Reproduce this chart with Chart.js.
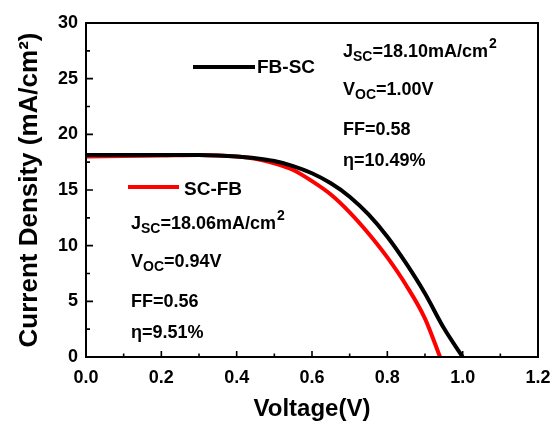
<!DOCTYPE html>
<html>
<head>
<meta charset="utf-8">
<script src="https://cdn.jsdelivr.net/npm/chart.js@4.4.0/dist/chart.umd.min.js"></script>
<style>
  html, body { margin: 0; padding: 0; background: #fff; }
  #wrap { width: 553px; height: 424px; }
</style>
</head>
<body>
<div id="wrap"><canvas id="jv" width="553" height="424"></canvas></div>
<script>
/* J-V curves */
const voltageFB = [0, 0.1, 0.2, 0.3, 0.35, 0.4, 0.45, 0.5, 0.55, 0.6, 0.65, 0.7, 0.75, 0.8, 0.85, 0.9, 0.95, 1.0];
const currentFB = [18.15, 18.15, 18.15, 18.15, 18.1, 18.0, 17.85, 17.6, 17.15, 16.5, 15.6, 14.4, 12.8, 10.8, 8.4, 5.7, 2.6, 0];

const voltageSC = [0, 0.1, 0.2, 0.3, 0.35, 0.4, 0.45, 0.5, 0.55, 0.6, 0.65, 0.7, 0.75, 0.8, 0.85, 0.9, 0.94];
const currentSC = [18.0, 18.05, 18.1, 18.15, 18.1, 18.0, 17.8, 17.4, 16.8, 15.8, 14.6, 13.0, 11.1, 8.95, 6.45, 3.45, 0];

const seriesNames = ['FB-SC', 'SC-FB'];
const seriesColors = ['#000000', '#ff0000'];

const xTickLabels = ['0.0', '0.2', '0.4', '0.6', '0.8', '1.0', '1.2'];
const yTickLabels = ['0', '5', '10', '15', '20', '25', '30'];

// parameter boxes: [main, subscript, main, superscript]
const statsFB = [['J', 'SC', '=18.10mA/cm', '2'], ['V', 'OC', '=1.00V', ''], ['FF=0.58', '', '', ''], ['\u03b7=10.49%', '', '', '']];
const statsSC = [['J', 'SC', '=18.06mA/cm', '2'], ['V', 'OC', '=0.94V', ''], ['FF=0.56', '', '', ''], ['\u03b7=9.51%', '', '', '']];

const FONT = "'Liberation Sans', Arial, sans-serif";

const pts = (xs, ys) => xs.map((x, i) => ({ x, y: ys[i] }));

function drawRuns(ctx, x, y, parts) {
  const [a, sub, b, sup] = parts;
  ctx.textAlign = 'left';
  ctx.textBaseline = 'alphabetic';
  ctx.font = 'bold 18px ' + FONT;
  ctx.fillText(a, x, y); x += ctx.measureText(a).width;
  if (sub) {
    ctx.font = 'bold 14px ' + FONT;
    ctx.fillText(sub, x, y + 4); x += ctx.measureText(sub).width;
  }
  if (b) {
    ctx.font = 'bold 18px ' + FONT;
    ctx.fillText(b, x, y); x += ctx.measureText(b).width;
  }
  if (sup) {
    ctx.font = 'bold 14px ' + FONT;
    ctx.fillText(sup, x + 1, y - 9);
  }
}

const frame = {
  id: 'frame',
  afterDatasetsDraw(chart) {
    const { ctx, chartArea: a, scales: { x, y } } = chart;
    ctx.save();
    ctx.strokeStyle = '#000';
    ctx.fillStyle = '#000';

    // inward ticks
    ctx.lineWidth = 1.6;
    ctx.beginPath();
    for (let v = 1; v < 12; v++) {
      const px = x.getPixelForValue(v / 10);
      ctx.moveTo(px, a.bottom);
      ctx.lineTo(px, a.bottom - (v % 2 ? 3.5 : 6));
    }
    for (let v = 1; v < 12; v++) {
      const py = y.getPixelForValue(v * 2.5);
      ctx.moveTo(a.left, py);
      ctx.lineTo(a.left + (v % 2 ? 4 : 7), py);
    }
    ctx.stroke();

    // box
    ctx.lineWidth = 2;
    ctx.strokeRect(a.left, a.top, a.right - a.left, a.bottom - a.top);

    // legend entries
    const legends = [
      { x0: 107, x1: 169, y: 44, tx: 171, ty: 50 },
      { x0: 42, x1: 93, y: 164, tx: 98, ty: 172 }
    ];
    legends.forEach((l, i) => {
      ctx.lineWidth = 4;
      ctx.strokeStyle = seriesColors[i];
      ctx.beginPath();
      ctx.moveTo(a.left + l.x0, a.top + l.y);
      ctx.lineTo(a.left + l.x1, a.top + l.y);
      ctx.stroke();
      ctx.fillStyle = '#000';
      ctx.font = 'bold 19px ' + FONT;
      ctx.textAlign = 'left';
      ctx.textBaseline = 'alphabetic';
      ctx.fillText(seriesNames[i], a.left + l.tx, a.top + l.ty);
    });

    // parameter text
    ctx.fillStyle = '#000';
    const fbBase = [34, 72, 112, 143];
    statsFB.forEach((p, i) => drawRuns(ctx, a.left + 257, a.top + fbBase[i], p));
    const scBase = [206, 244, 284, 315];
    statsSC.forEach((p, i) => drawRuns(ctx, a.left + 45, a.top + scBase[i], p));

    ctx.restore();
  }
};

new Chart(document.getElementById('jv'), {
  type: 'line',
  data: {
    datasets: [
      { label: seriesNames[0], data: pts(voltageFB, currentFB), borderColor: seriesColors[0],
        borderWidth: 4, pointRadius: 0, cubicInterpolationMode: 'monotone', fill: false },
      { label: seriesNames[1], data: pts(voltageSC, currentSC), borderColor: seriesColors[1],
        borderWidth: 4, pointRadius: 0, cubicInterpolationMode: 'monotone', fill: false }
    ]
  },
  options: {
    responsive: false,
    animation: false,
    layout: { padding: { top: 23, right: 15, left: 0, bottom: 0 } },
    plugins: { legend: { display: false }, tooltip: { enabled: false } },
    scales: {
      x: {
        type: 'linear', min: 0, max: 1.2,
        grid: { display: false, drawTicks: false },
        border: { display: false },
        ticks: { stepSize: 0.2, padding: 10, color: '#000', font: { family: FONT, size: 18, weight: 'bold' },
          callback: (v, i) => xTickLabels[i] },
        title: { display: true, text: 'Voltage(V)', color: '#000', padding: { top: 0, bottom: 0 },
          font: { family: FONT, size: 24, weight: 'bold' } },
        afterFit: s => { s.height = 67; s.paddingLeft = 0; s.paddingRight = 0; }
      },
      y: {
        type: 'linear', min: 0, max: 30,
        grid: { display: false, drawTicks: false },
        border: { display: false },
        ticks: { stepSize: 5, padding: 8, color: '#000', font: { family: FONT, size: 18, weight: 'bold' },
          callback: (v, i) => yTickLabels[i] },
        title: { display: true, text: 'Current Density (mA/cm\u00b2)', color: '#000', padding: { top: 14, bottom: 0 },
          font: { family: FONT, size: 26, weight: 'bold' } },
        afterFit: s => { s.width = 86; s.paddingTop = 0; s.paddingBottom = 0; }
      }
    }
  },
  plugins: [frame]
});
</script>
</body>
</html>
